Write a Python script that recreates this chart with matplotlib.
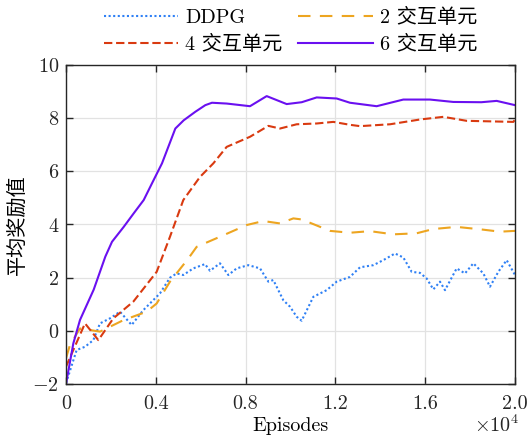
import matplotlib
matplotlib.use("Agg")
import matplotlib.pyplot as plt

plt.rcParams['font.family'] = ['cmr10', 'Noto Sans CJK SC', 'DejaVu Sans']
plt.rcParams['mathtext.fontset'] = 'cm'
plt.rcParams['axes.formatter.use_mathtext'] = True
plt.rcParams['axes.unicode_minus'] = True

# ---- data (episodes, average reward) ----
ddpg_x = [0, 475, 846, 1217, 1514, 1960, 2405, 2925, 3445, 4187, 4632, 4930, 5225,
          5671, 6191, 6414, 6860, 7231, 7603, 8122, 8642, 9013, 9235, 9681, 9977,
          10275, 10497, 11017, 11611, 12057, 12650, 13096, 13690, 14135, 14655,
          15025, 15397, 15768, 16065, 16362, 16659, 16882, 17401, 17772, 18143,
          18589, 18886, 19257, 19629, 20000]
ddpg_y = [-1.97, -0.72, -0.6, -0.35, 0.28, 0.47, 0.72, 0.22, 0.78, 1.41, 2.0, 2.16, 2.1,
          2.35, 2.51, 2.26, 2.54, 2.1, 2.35, 2.47, 2.35, 1.85, 1.91, 1.15, 0.91,
          0.53, 0.38, 1.28, 1.53, 1.85, 2.03, 2.39, 2.47, 2.66, 2.91,
          2.76, 2.22, 2.18, 1.97, 1.56, 1.85, 1.53, 2.35, 2.16, 2.54,
          2.16, 1.66, 2.22, 2.66, 2.1]

u2_x = [0, 178, 624, 1514, 2552, 3593, 4039, 4632, 5448, 5820, 6860, 8048, 8790,
        9532, 10126, 10497, 10942, 11760, 12650, 13541, 14580, 15620, 16362,
        17401, 18440, 19331, 20000]
u2_y = [-1.03, -0.53, 0.09, -0.03, 0.4, 0.72, 1.03, 1.85, 2.72, 3.16, 3.54, 3.98, 4.13,
        4.04, 4.23, 4.19, 4.04, 3.76, 3.69, 3.75, 3.63, 3.67, 3.83,
        3.91, 3.82, 3.73, 3.76]

u4_x = [0, 846, 1440, 2109, 3000, 4039, 4632, 5225, 5969, 6563, 7157, 8196, 9013,
        9532, 10275, 11166, 11908, 12650, 13096, 14432, 15768, 16807, 17846,
        19926, 20000]
u4_y = [-1.35, 0.28, -0.35, 0.47, 1.1, 2.22, 3.54, 4.92, 5.79, 6.3, 6.92, 7.3, 7.71,
        7.61, 7.77, 7.8, 7.86, 7.75, 7.7, 7.77, 7.95, 8.05, 7.9,
        7.86, 7.95]

u6_x = [0, 327, 624, 1234, 1751, 2049, 2570, 3016, 3461, 3831, 4276, 4870, 5243,
        5760, 6206, 6503, 7157, 8196, 8939, 9830, 10500, 11166, 12057, 12650,
        13838, 15025, 16213, 17252, 18500, 19183, 20000]
u6_y = [-2.0, -0.47, 0.41, 1.55, 2.79, 3.35, 3.91, 4.42, 4.92, 5.55, 6.30, 7.61, 7.92,
        8.24, 8.49, 8.58, 8.55, 8.45, 8.83, 8.53, 8.6, 8.78, 8.74, 8.58,
        8.45, 8.70, 8.70, 8.61, 8.6, 8.65, 8.49]

labels = ['DDPG', '2 交互单元', '4 交互单元', '6 交互单元']
xtick_vals = [0, 4000, 8000, 12000, 16000, 20000]
xtick_labels = ['0', '0.4', '0.8', '1.2', '1.6', '2.0']
ytick_vals = [-2, 0, 2, 4, 6, 8, 10]

c_blue = '#2F80F5'
c_orange = '#EDA520'
c_red = '#D93A10'
c_purple = '#6A10F0'
fs = 14.5

fig = plt.figure(figsize=(5.30, 4.36), dpi=100)
ax = fig.add_axes([66/530, 52/436, 449/530, 319/436])

l1, = ax.plot(ddpg_x, ddpg_y, color=c_blue, lw=1.5, linestyle=(0, (1, 1.2)))
l2, = ax.plot(u2_x, u2_y, color=c_orange, lw=1.5, linestyle=(0, (6, 4.5)))
l3, = ax.plot(u4_x, u4_y, color=c_red, lw=1.5, linestyle=(0, (4, 1.8)))
l4, = ax.plot(u6_x, u6_y, color=c_purple, lw=1.5, linestyle='-')

ax.set_xlim(0, 20000)
ax.set_ylim(-2, 10)
ax.set_xticks(xtick_vals)
ax.set_xticklabels(xtick_labels)
ax.set_yticks(ytick_vals)
ax.grid(True, color='#e2e2e2', lw=0.9)
ax.set_axisbelow(True)
ax.tick_params(direction='in', top=True, right=True, length=5, width=1,
               labelsize=fs, colors='#262626')
ax.tick_params(axis='x', pad=8)
ax.tick_params(axis='y', pad=5)
for s in ax.spines.values():
    s.set_color('#262626')
    s.set_linewidth(1.0)

ax.set_xlabel('Episodes', fontsize=fs, labelpad=3)
ax.set_ylabel('平均奖励值', fontsize=fs, labelpad=4)
ax.text(1.01, -0.128, r'$\times10^4$', transform=ax.transAxes, ha='right', va='center',
        fontsize=fs, color='#262626')

leg = fig.legend([l1, l3, l2, l4], [labels[0], labels[2], labels[1], labels[3]],
                 ncol=2, frameon=False, fontsize=fs, loc='center',
                 bbox_to_anchor=(0.548, 0.929), handlelength=3.7, handletextpad=0.35,
                 columnspacing=0.8, labelspacing=0.4)

fig.savefig('out.png', dpi=100)
